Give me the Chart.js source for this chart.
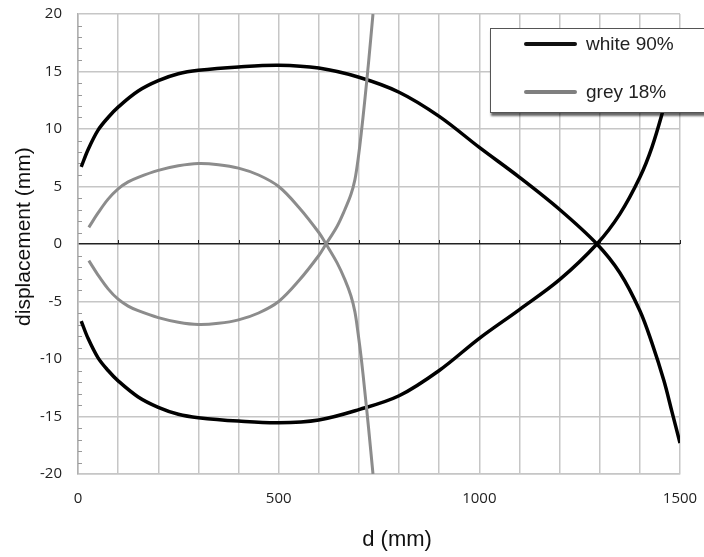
<!DOCTYPE html>
<html>
<head>
<meta charset="utf-8">
<script src="https://cdn.jsdelivr.net/npm/chart.js@4"></script>
<style>
  html, body { margin: 0; padding: 0; background: #fff; }
  #wrap { position: relative; width: 704px; height: 557px; overflow: hidden; }
  #legend {
    position: absolute; left: 490px; top: 28px; width: 230px; height: 83px;
    background: #fff; border: 1px solid #555;
    box-shadow: 1px 3px 2px rgba(0,0,0,0.6);
    font-family: "Liberation Sans", Arial, sans-serif; font-size: 19px; color: #222;
  }
  .item { position: absolute; left: 33px; height: 24px; line-height: 24px; }
  .item span.sw { position: absolute; left: 0; top: 10px; width: 53px; height: 4px; border-radius: 2px; }
  .item span.tx { position: absolute; left: 62px; white-space: nowrap; }
</style>
</head>
<body>
<div id="wrap">
  <canvas id="chart" width="704" height="557"></canvas>
  <div id="legend">
    <div class="item" style="top:3px"><span class="sw" style="background:#111"></span><span class="tx">white 90%</span></div>
    <div class="item" style="top:51px"><span class="sw" style="background:#7f7f7f"></span><span class="tx">grey 18%</span></div>
  </div>
</div>
<script>
// white 90% target (black curves)
const whiteX = [8, 25, 50, 75, 100, 150, 200, 250, 300, 400, 500, 600, 700, 800, 900, 1000, 1100, 1200, 1293, 1350, 1400, 1430, 1460, 1480, 1500];
const whiteUpper = [6.7, 8.2, 9.9, 11.0, 11.9, 13.3, 14.2, 14.8, 15.1, 15.4, 15.55, 15.3, 14.5, 13.2, 11.1, 8.4, 5.8, 3.0, 0, -2.5, -5.8, -8.6, -11.9, -14.6, -17.3];
const whiteLower = [-6.7, -8.2, -9.9, -11.0, -11.9, -13.3, -14.2, -14.8, -15.1, -15.4, -15.55, -15.3, -14.4, -13.2, -11.0, -8.2, -5.7, -3.1, 0, 2.6, 5.8, 8.4, 11.9, 14.6, 17.3];

// grey 18% target
const greyX = [27, 50, 75, 100, 125, 150, 200, 250, 300, 350, 400, 450, 500, 550, 600, 618, 645, 665, 680, 690, 698, 706, 714, 724, 735];
const greyUpper = [1.45, 2.7, 3.9, 4.8, 5.4, 5.8, 6.4, 6.8, 7.0, 6.9, 6.6, 6.0, 5.0, 3.2, 1.0, 0, -1.6, -3.1, -4.5, -5.9, -7.8, -10.0, -12.6, -16.0, -20];
const greyLower = [-1.45, -2.7, -3.9, -4.8, -5.4, -5.8, -6.4, -6.8, -7.0, -6.9, -6.6, -6.0, -5.0, -3.2, -1.0, 0, 1.5, 3.0, 4.3, 5.6, 7.4, 9.7, 12.3, 15.8, 20];

const xTickLabels = [0, 500, 1000, 1500];

const pts = (xs, ys) => xs.map((x, i) => ({ x: x, y: ys[i] }));

const lineSet = (data, color, width) => ({
  data: data,
  showLine: true,
  borderColor: color,
  backgroundColor: color,
  borderWidth: width,
  pointRadius: 0,
  tension: 0.35,
  fill: false,
});

// little tick marks: minor ticks on the y axis and the ticks on the zero line
const minorTicks = {
  id: 'minorTicks',
  beforeDatasetsDraw(chart) {
    const { ctx, chartArea, scales: { x, y } } = chart;
    ctx.save();
    ctx.lineWidth = 1;
    ctx.strokeStyle = '#9a9a9a';
    for (let v = -20; v <= 20; v++) {
      if (v % 5 === 0) continue;
      const py = Math.round(y.getPixelForValue(v)) + 0.5;
      ctx.beginPath();
      ctx.moveTo(chartArea.left, py);
      ctx.lineTo(chartArea.left + 4, py);
      ctx.stroke();
    }
    const y0 = y.getPixelForValue(0);
    ctx.strokeStyle = '#222';
    for (let v = 100; v <= 1500; v += 100) {
      const px = Math.round(x.getPixelForValue(v)) + 0.5;
      ctx.beginPath();
      ctx.moveTo(px, y0);
      ctx.lineTo(px, y0 - 4);
      ctx.stroke();
    }
    ctx.restore();
  }
};

// axis titles, placed like the original (slightly off centre)
const axisTitles = {
  id: 'axisTitles',
  afterDraw(chart) {
    const { ctx, chartArea } = chart;
    ctx.save();
    ctx.fillStyle = '#111';
    ctx.textAlign = 'center';
    ctx.textBaseline = 'middle';
    ctx.font = '22px "Liberation Sans"';
    ctx.fillText('d (mm)', chartArea.left + 0.53 * (chartArea.right - chartArea.left), chart.height - 17);
    ctx.translate(24, chartArea.top + 0.484 * (chartArea.bottom - chartArea.top));
    ctx.rotate(-Math.PI / 2);
    ctx.font = '21px "Liberation Sans"';
    ctx.fillText('displacement (mm)', 0, 0);
    ctx.restore();
  }
};

new Chart(document.getElementById('chart'), {
  type: 'scatter',
  data: {
    datasets: [
      lineSet(pts(greyX, greyUpper), '#8c8c8c', 3),
      lineSet(pts(greyX, greyLower), '#8c8c8c', 3),
      lineSet(pts(whiteX, whiteUpper), '#000', 3.5),
      lineSet(pts(whiteX, whiteLower), '#000', 3.5),
    ],
  },
  plugins: [minorTicks, axisTitles],
  options: {
    responsive: false,
    animation: false,
    layout: { padding: { top: 14, right: 24, bottom: 0, left: 0 } },
    plugins: { legend: { display: false }, tooltip: { enabled: false } },
    scales: {
      x: {
        type: 'linear',
        min: 0,
        max: 1500,
        afterFit: (scale) => {
          scale.height = 83;
          scale.paddingLeft = 0;
          scale.paddingRight = 0;
        },
        ticks: {
          stepSize: 100,
          autoSkip: false,
          maxRotation: 0,
          padding: 16,
          color: '#222',
          font: { family: 'Open Sans', size: 15 },
          callback: (v) => (xTickLabels.includes(v) ? v : ''),
        },
        grid: { color: '#c6c6c6', lineWidth: 1.5, drawTicks: false },
        border: { color: '#c6c6c6', width: 1.5 },
      },
      y: {
        min: -20,
        max: 20,
        afterFit: (scale) => {
          scale.width = 78;
          scale.paddingTop = 0;
          scale.paddingBottom = 0;
        },
        ticks: {
          stepSize: 5,
          padding: 16,
          color: '#222',
          font: { family: 'Open Sans', size: 15 },
        },
        grid: {
          color: (c) => (c.tick && c.tick.value === 0 ? '#222' : '#c6c6c6'),
          lineWidth: 1.5,
          drawTicks: false,
        },
        border: { color: '#b0b0b0', width: 1.5 },
      },
    },
  },
});
</script>
</body>
</html>
